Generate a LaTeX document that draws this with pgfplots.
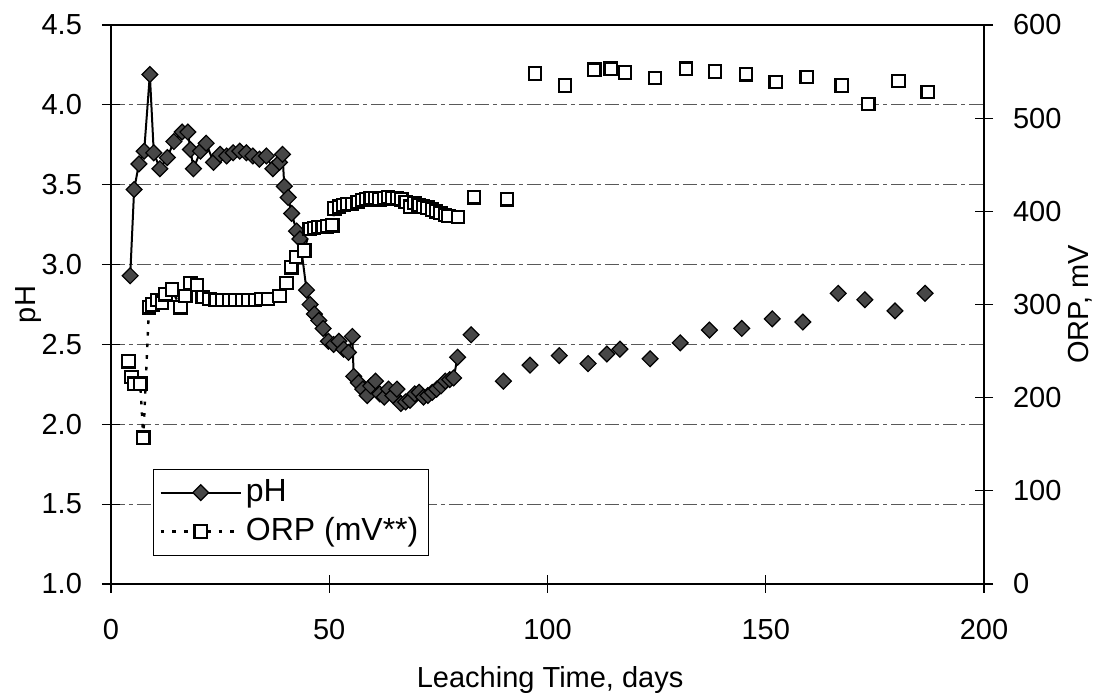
\documentclass[border=0pt]{standalone}
\usepackage{pgfplots}
\pgfplotsset{compat=1.18}
\usepackage{fontspec}
\setmainfont{Liberation Sans}

\pgfplotstableread{
x y
4.4 2.93
5.3 3.47
6.4 3.63
7.6 3.71
8.9 4.19
9.8 3.70
11.2 3.60
12.9 3.67
14.4 3.77
16.3 3.83
17.6 3.83
18.2 3.72
18.9 3.60
20.5 3.71
21.8 3.76
23.5 3.64
25.0 3.69
26.5 3.68
28.0 3.70
29.5 3.71
31.0 3.70
32.5 3.68
34.0 3.66
35.6 3.68
37.1 3.60
38.6 3.64
39.3 3.69
39.7 3.49
40.6 3.42
41.4 3.32
42.5 3.21
43.3 3.16
44.8 2.84
45.6 2.75
46.6 2.69
47.6 2.65
48.6 2.60
49.8 2.52
51.0 2.50
52.2 2.52
53.3 2.47
54.4 2.45
55.3 2.55
55.6 2.30
56.7 2.26
57.7 2.22
58.7 2.18
59.5 2.24
60.6 2.27
61.6 2.19
62.6 2.17
63.6 2.22
64.6 2.18
65.5 2.22
66.4 2.13
67.5 2.14
68.5 2.15
69.6 2.19
70.6 2.20
71.6 2.17
72.6 2.18
73.6 2.20
74.6 2.22
75.6 2.24
76.6 2.27
77.6 2.28
78.5 2.29
79.4 2.42
}\phline

\pgfplotstableread{
x y
82.5 2.56
89.9 2.27
96.0 2.37
102.7 2.43
109.3 2.38
113.6 2.44
116.6 2.47
123.5 2.41
130.4 2.51
137.1 2.59
144.5 2.60
151.5 2.66
158.5 2.64
166.6 2.82
172.7 2.78
179.6 2.71
186.5 2.82
}\phpts

\pgfplotstableread{
x y
4.0 239
4.7 222
5.3 215
6.7 215
7.4 157
8.7 297
9.5 300
10.6 305
11.7 302
12.5 311
14.0 316
15.9 297
17.0 309
18.2 323
19.7 321
21.0 308
22.5 306
24.0 305
25.5 305
27.0 305
28.5 305
30.0 305
31.5 305
33.0 305
34.5 306
36.0 306
38.6 309
40.2 323
41.3 340
42.4 351
44.3 358
45.5 381
46.5 382
47.5 383
48.5 383
49.5 384
50.7 385
51.2 403
52.2 405
53.2 407
54.2 408
55.2 408
56.5 410
57.5 412
58.5 413
59.5 414
60.5 414
61.5 413
62.5 414
63.5 415
64.5 414
65.5 414
66.5 413
67.5 410
68.5 405
69.5 409
70.5 407
71.5 405
72.5 404
73.5 402
74.5 400
75.5 398
76.5 396
77.3 395
79.5 394
}\orpline

\pgfplotstableread{
x y
83.2 415
90.7 413
97.1 548
104.0 535
110.7 552
114.5 553
117.8 549
124.6 543
131.7 553
138.4 550
145.5 547
152.3 539
159.4 544
167.4 535
173.5 515
180.4 540
187.1 528
}\orppts

\begin{document}
\fontsize{14.5}{17}\selectfont
\begin{tikzpicture}
\pgfplotsset{
  common/.style={
    width=436.5pt, height=279.5pt, scale only axis,
    xmin=0, xmax=200,
    tick align=center, major tick length=9pt,
    tick style={black, line width=0.6pt},
    axis line style={line width=0.8pt},
    /pgf/number format/assume math mode=true,
    tick label style={font=\fontsize{14.5}{17}\selectfont},
    label style={font=\fontsize{14.5}{17}\selectfont},
    legend image code/.code={\draw[mark repeat=2,mark phase=2,##1] plot coordinates {(0pt,0pt) (20pt,0pt) (40pt,0pt)};},
  },
  phstyle/.style={black, line width=1pt, mark=square*, mark size=2.8pt,
    mark options={rotate=45, fill=black!72, draw=black, line width=0.6pt, solid}},
  orpstyle/.style={black, line width=1.2pt, dash pattern=on 1.8pt off 4pt, mark=square*, mark size=3.1pt,
    mark options={solid, fill=white, draw=black, line width=1.1pt}},
}
\begin{axis}[common,
  ymin=1, ymax=4.5, ytick={1,1.5,...,4.5},
  xtick={0,50,...,200},
  xtick pos=bottom, ytick pos=left,
  yticklabel style={/pgf/number format/.cd, fixed, fixed zerofill, precision=1},
  ymajorgrids,
  major grid style={black!65, dash pattern=on 7pt off 2pt on 2pt off 2pt, line width=0.5pt},
  xticklabel shift=8pt, yticklabel shift=5pt,
  xlabel={Leaching Time, days},
  xlabel style={at={(axis description cs:0.503,-0.172)}, anchor=center},
  ylabel={pH},
  ylabel style={at={(axis description cs:-0.095,0.5)}, anchor=center},
]
\addplot[phstyle] table {\phline};
\addplot[phstyle, only marks] table {\phpts};
\end{axis}
\begin{axis}[common,
  ymin=0, ymax=600, ytick={0,100,...,600},
  axis x line=none, axis y line*=right,
  yticklabel shift=5pt,
  ylabel={ORP, mV},
  ylabel style={at={(axis description cs:1.11,0.5)}, anchor=center},
  legend style={at={(axis description cs:0.048,0.206)}, anchor=north west,
    draw=black, line width=0.6pt, fill=white, cells={anchor=west},
    font=\fontsize{16}{19}\selectfont, inner xsep=3pt, inner ysep=3pt, row sep=2pt},
]
\addlegendimage{phstyle}
\addlegendentry{pH}
\addplot[orpstyle] table {\orpline};
\addlegendentry{ORP (mV**)}
\addplot[orpstyle, only marks, forget plot] table {\orppts};
\end{axis}
\pgfresetboundingbox
\path (-55.5pt,-55.5pt) rectangle (494.5pt,292pt);
\end{tikzpicture}
\end{document}
